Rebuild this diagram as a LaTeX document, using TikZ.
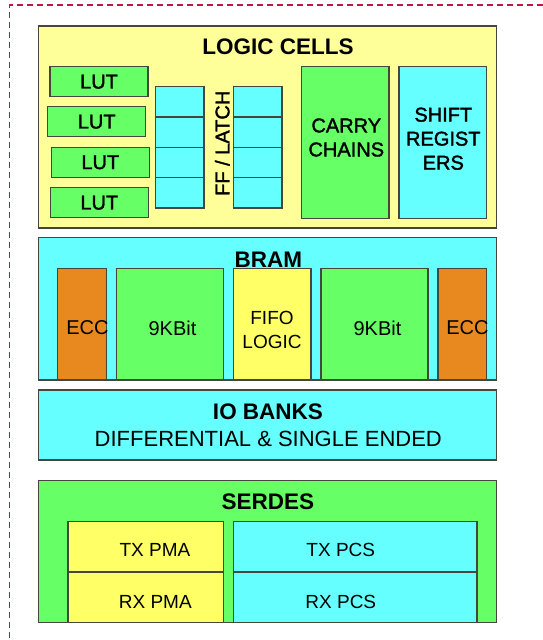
\documentclass[tikz,border=0pt]{standalone}
\usepackage{fontspec}
\setmainfont{Liberation Sans}
\newfontfamily\mediumsans[FakeBold=1.6]{Liberation Sans}
\definecolor{paleyellow}{HTML}{FFFF99}
\definecolor{brightyellow}{HTML}{FFFF66}
\definecolor{cellgreen}{HTML}{66FF66}
\definecolor{cellcyan}{HTML}{66FFFF}
\definecolor{eccorange}{HTML}{E8891F}
\definecolor{edgegray}{HTML}{45463C}
\definecolor{framered}{HTML}{C01448}
\tikzset{
  blk/.style={draw=edgegray, line width=1.5pt, inner sep=0pt, outer sep=0pt, anchor=north west},
  title/.style={inner sep=0pt, font=\fontsize{22.5}{24}\selectfont\bfseries},
  boldlbl/.style={inner sep=0pt, align=center, font=\fontsize{20}{24}\selectfont\mediumsans},
  lbl/.style={inner sep=0pt, align=center, font=\fontsize{20}{24}\selectfont},
  smalllbl/.style={inner sep=0pt, align=center, font=\fontsize{19}{23.3}\selectfont},
  dashframe/.style={draw=framered, line width=1.3pt, dash pattern=on 6pt off 4pt},
}
\begin{document}
\begin{tikzpicture}[x=1pt,y=-1pt]
\useasboundingbox (0,0) rectangle (543,640);

% outer dashed frame (only top and left edges fall inside the page)
\coordinate (frameTR) at (543,5);
\coordinate (frameTL) at (9.5,5);
\coordinate (frameBL) at (9.5,640);
\draw[dashframe] (frameTR) -- (frameTL) -- (frameBL);

% ---------------- logic cells ----------------
\node[blk, fill=paleyellow, minimum width=458pt, minimum height=202pt] (logic) at (38.5,26) {};
\node[title] (logictitle) at (278,47) {LOGIC CELLS};

\node[blk, fill=cellgreen, minimum width=98pt, minimum height=30pt] (lut1) at (50,66.7) {};
\node[blk, fill=cellgreen, minimum width=98pt, minimum height=30pt] (lut2) at (47.7,106.7) {};
\node[blk, fill=cellgreen, minimum width=98pt, minimum height=30pt] (lut3) at (51.3,147.3) {};
\node[blk, fill=cellgreen, minimum width=98pt, minimum height=30pt] (lut4) at (50.3,187.7) {};
\node[boldlbl] (lut1t) at (lut1.center) {LUT};
\node[boldlbl] (lut2t) at (lut2.center) {LUT};
\node[boldlbl] (lut3t) at (lut3.center) {LUT};
\node[boldlbl] (lut4t) at (lut4.center) {LUT};

% flip-flop / latch columns
\foreach \i/\y in {1/86.7, 2/117, 3/147.3, 4/177.7}{
  \node[blk, fill=cellcyan, minimum width=48.7pt, minimum height=30.3pt] (ffa\i) at (155.3,\y) {};
  \node[blk, fill=cellcyan, minimum width=48.7pt, minimum height=30.3pt] (ffb\i) at (233.3,\y) {};
}
\node[boldlbl, rotate=90] (fflabel) at (222.3,143.3) {FF / LATCH};

\node[blk, fill=cellgreen, minimum width=87.3pt, minimum height=151.6pt] (carry) at (301.7,66.7) {};
\node[boldlbl] (carryt) at (346.3,137.5) {CARRY\\CHAINS};
\node[blk, fill=cellcyan, minimum width=87.7pt, minimum height=151.6pt] (shift) at (399,66.7) {};
\node[boldlbl] (shiftt) at (443.3,138.7) {SHIFT\\REGIST\\ERS};

% ---------------- block RAM ----------------
\node[blk, fill=cellcyan, minimum width=458pt, minimum height=142.7pt] (bram) at (38.5,237.3) {};
\node[blk, fill=eccorange, minimum width=49pt, minimum height=111.7pt] (eccl) at (57.7,268.3) {};
\node[blk, fill=cellgreen, minimum width=107pt, minimum height=111.7pt] (kbitl) at (116.3,268.3) {};
\node[blk, fill=brightyellow, minimum width=77.3pt, minimum height=111.7pt] (fifo) at (233.7,268.3) {};
\node[blk, fill=cellgreen, minimum width=107pt, minimum height=111.7pt] (kbitr) at (321,268.3) {};
\node[blk, fill=eccorange, minimum width=48.7pt, minimum height=111.7pt] (eccr) at (438,268.3) {};
\node[title] (bramtitle) at (268.3,260) {BRAM};
\node[lbl] (ecclt) at (87.5,328) {ECC};
\node[lbl] (kbitlt) at (172.5,328) {9KBit};
\node[smalllbl] (fifot) at (272,330) {FIFO\\LOGIC};
\node[lbl] (kbitrt) at (377.5,328) {9KBit};
\node[lbl] (eccrt) at (467.5,328) {ECC};

% ---------------- IO banks ----------------
\node[blk, fill=cellcyan, minimum width=458pt, minimum height=70pt] (io) at (38.5,390) {};
\node[title] (iotitle) at (268,411.7) {IO BANKS};
\node[inner sep=0pt, font=\fontsize{22}{24}\selectfont] (iosub) at (268.3,439.3) {DIFFERENTIAL \& SINGLE ENDED};

% ---------------- SERDES ----------------
\node[blk, fill=cellgreen, minimum width=458pt, minimum height=142pt] (serdes) at (38.5,480.7) {};
\node[title] (serdestitle) at (267.8,501.7) {SERDES};
\node[blk, fill=brightyellow, minimum width=155.3pt, minimum height=50.3pt] (txpma) at (68,521.7) {};
\node[blk, fill=brightyellow, minimum width=155.3pt, minimum height=50.7pt] (rxpma) at (68,572) {};
\node[blk, fill=cellcyan, minimum width=243.7pt, minimum height=50.3pt] (txpcs) at (233.3,521.7) {};
\node[blk, fill=cellcyan, minimum width=243.7pt, minimum height=50.7pt] (rxpcs) at (233.3,572) {};
\node[smalllbl] (txpmat) at (155,550) {TX PMA};
\node[smalllbl] (rxpmat) at (155.3,601.7) {RX PMA};
\node[smalllbl] (txpcst) at (340.8,550) {TX PCS};
\node[smalllbl] (rxpcst) at (340.8,601.7) {RX PCS};
\end{tikzpicture}
\end{document}
